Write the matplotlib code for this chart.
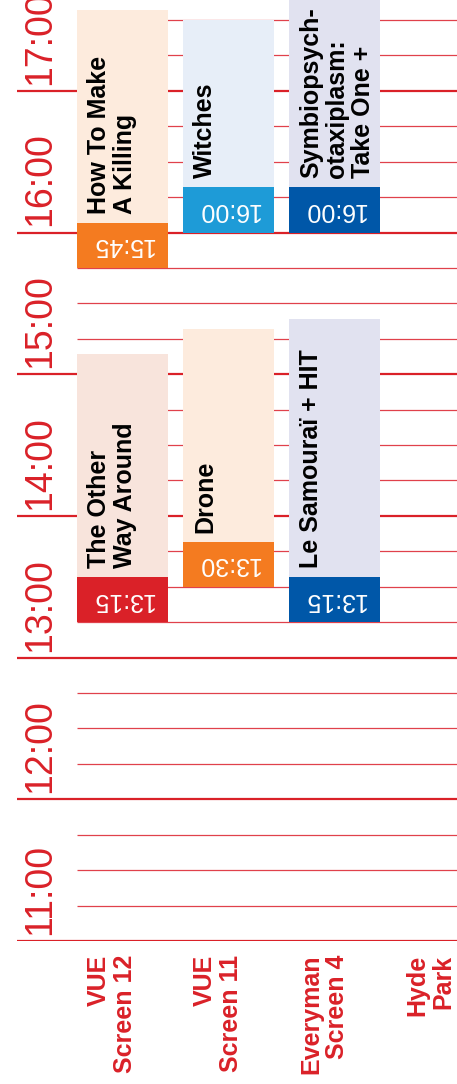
import matplotlib.pyplot as plt
from matplotlib.patches import Rectangle

# venues (columns) and screenings
venues = ['VUE\nScreen 12', 'VUE\nScreen 11', 'Everyman\nScreen 4', 'Hyde\nPark']
films = ['How To Make\nA Killing', 'Witches', 'Symbiopsych-\notaxiplasm:\nTake One +',
         'The Other\nWay Around', 'Drone', 'Le Samouraï + HIT']
film_venue = [0, 1, 2, 0, 1, 2]
start_labels = ['15:45', '16:00', '16:00', '13:15', '13:30', '13:15']
start_hours = [15.75, 16.0, 16.0, 13.25, 13.5, 13.25]
end_hours = [17.57, 17.5, 17.64, 15.14, 15.32, 15.39]
light_colors = ['#fdebdd', '#e7eef8', '#e1e2f0', '#f8e4dc', '#fdebdd', '#e1e2f0']
dark_colors = ['#f47b20', '#1e9bd7', '#0057a8', '#da2128', '#f47b20', '#0057a8']
hours = [11, 12, 13, 14, 15, 16, 17]

RED = '#da2128'
W, H = 457, 1084
fig = plt.figure(figsize=(W / 100, H / 100), dpi=100)
ax = fig.add_axes([0, (H - 941) / H, 1, 941 / H])
ax.set_xlim(-77 / 106, (W - 77) / 106)
ax.set_ylim(11, 11 + 941 / 141.7)
ax.axis('off')

col_w = 91 / 106
head_h = 0.318

# grid lines: hours extend to the left, quarters start at the first column
t = 11.0
while t < 17.75:
    if abs(t - round(t)) < 1e-6:
        ax.plot([-60 / 106, 4], [t, t], color=RED, lw=1.6, zorder=1, solid_capstyle='butt')
    else:
        ax.plot([0, 4], [t, t], color='#e0414b', lw=0.9, zorder=1, solid_capstyle='butt')
    t += 0.25

for h in hours:
    ax.text(-27 / 106, h + 6 / 141.7, f'{h}:00', rotation=90, rotation_mode='anchor',
            ha='left', va='baseline', color=RED, fontsize=27,
            family=['Liberation Sans Narrow', 'Liberation Sans'], clip_on=False)

for i, name in enumerate(films):
    x0 = film_venue[i]
    s, e = start_hours[i], end_hours[i]
    ax.add_patch(Rectangle((x0, s), col_w, e - s, facecolor=light_colors[i],
                           edgecolor='none', zorder=2))
    ax.add_patch(Rectangle((x0, s), col_w, head_h, facecolor=dark_colors[i],
                           edgecolor='none', zorder=3))
    ax.text(x0 + col_w / 2, s + head_h / 2, start_labels[i], rotation=180,
            ha='center', va='center', color='white', fontsize=18,
            family=['Liberation Sans Narrow', 'Liberation Sans'], zorder=4)
    ax.text(x0 + 10 / 106, s + head_h + 9 / 141.7, name, rotation=90,
            rotation_mode='anchor', ha='left', va='top', fontsize=18,
            fontweight='bold', family=['Liberation Sans'], linespacing=1.1,
            color='black', zorder=4)

for j, v in enumerate(venues):
    ax.text(j + 10 / 106, 11 - 14 / 141.7, v, rotation=90, rotation_mode='anchor',
            ha='right', va='top', multialignment='right', fontsize=18,
            fontweight='bold', family=['Liberation Sans'], linespacing=1.1,
            color=RED, clip_on=False)

fig.savefig('out.png', dpi=100)
